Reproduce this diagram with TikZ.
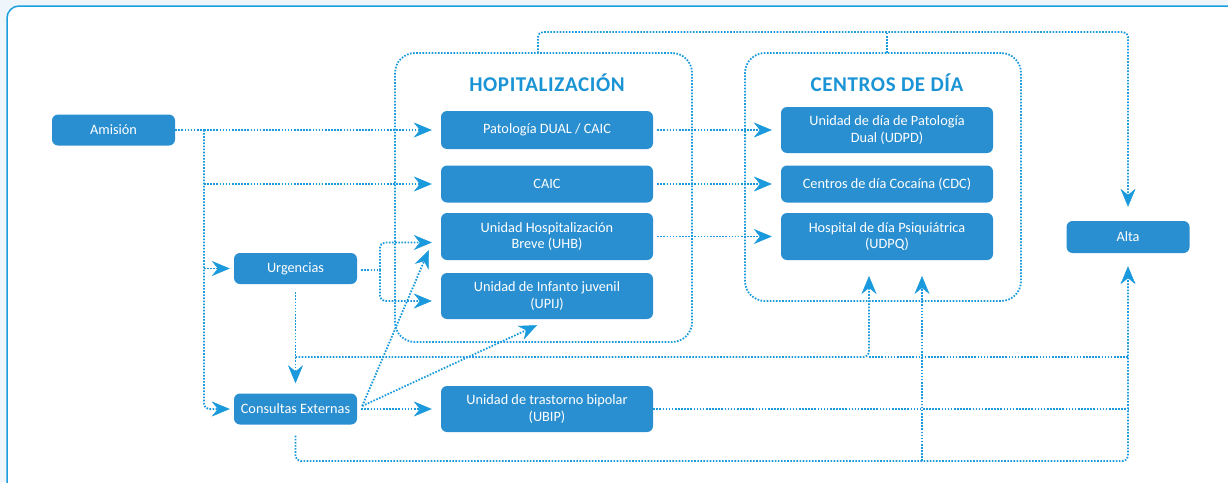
\documentclass[tikz,border=0pt]{standalone}
\usepackage{fontspec}
\setmainfont{Carlito}
\usetikzlibrary{arrows.meta,calc}
\definecolor{bg}{HTML}{EEF6FC}
\definecolor{frameblue}{HTML}{1A9FE0}
\definecolor{boxblue}{HTML}{2A8FD0}
\definecolor{lineblue}{HTML}{1A9ADC}
\definecolor{titleblue}{HTML}{1A94D4}
\begin{document}
\begin{tikzpicture}[x=1pt,y=-1pt,
  box/.style={fill=boxblue, rounded corners=6pt, text=white, font=\fontsize{14.3}{16.5}\selectfont, align=center, inner sep=0pt},
  sbox/.style={box, minimum width=123pt, minimum height=31pt},
  mbox/.style={box, minimum width=212pt},
  dline/.style={draw=lineblue, line width=1.8pt, dash pattern=on 1.6pt off 1.5pt},
  flow/.style={dline, -{Stealth[length=18pt,width=15pt,inset=6pt,line width=0.5pt]}, shorten >=9pt},
  grp/.style={dline, rounded corners=20pt, inner sep=0pt},
  ttl/.style={text=titleblue, font=\bfseries\fontsize{21}{25}\selectfont\addfontfeatures{LetterSpace=3}},
]
\useasboundingbox (0,0) rectangle (1228,482);
\fill[bg] (0,0) rectangle (1228,482);
\begin{scope}
\clip (0,0) rectangle (1228,482);
\draw[frameblue, line width=1.5pt, fill=white, rounded corners=12pt] (7,6) rectangle (1260,510);
\end{scope}

% group boxes
\node[grp, minimum width=297pt, minimum height=289pt] (hosp) at (543.5,197.5) {};
\node[grp, minimum width=276pt, minimum height=248pt] (cdia) at (883,177) {};
\node[ttl] (th) at (547,83) {HOPITALIZACIÓN};
\node[ttl] (tc) at (887,83) {CENTROS DE DÍA};

% nodes
\node[sbox] (ami) at (113.5,130) {Amisión};
\node[sbox] (urg) at (295.5,268.5) {Urgencias};
\node[sbox] (con) at (295.5,409) {Consultas Externas};
\node[mbox, minimum height=38pt] (pat) at (547,130) {Patología DUAL / CAIC};
\node[mbox, minimum height=37pt] (caic) at (547,184) {CAIC};
\node[mbox, minimum height=47pt] (uhb) at (547,236.5) {Unidad Hospitalización\\Breve (UHB)};
\node[mbox, minimum height=46pt] (upij) at (547,296) {Unidad de Infanto juvenil\\(UPIJ)};
\node[mbox, minimum height=46pt] (ubip) at (547,409) {Unidad de trastorno bipolar\\(UBIP)};
\node[mbox, minimum height=46pt] (udpd) at (887,130) {Unidad de día de Patología\\Dual (UDPD)};
\node[mbox, minimum height=37pt] (cdc) at (887,184) {Centros de día Cocaína (CDC)};
\node[mbox, minimum height=47pt] (udpq) at (887,236.5) {Hospital de día Psiquiátrica\\(UDPQ)};
\node[sbox, minimum height=32pt] (alta) at (1128,237) {Alta};

% coordinates
\coordinate (j1) at (204,130);
\coordinate (uj) at (380,270);
\coordinate (h1) at (295.5,357);
\coordinate (c1) at (869,276);
\coordinate (c2) at (922,276);
\coordinate (b1) at (922,461);
\coordinate (b2) at (1128,461);
\coordinate (t1) at (538,53);
\coordinate (t2) at (887,53);

% Amision branches
\draw[dline] (ami.east) -- (j1);
\draw[flow] (j1) -- (pat.west);
\draw[flow] (j1 |- caic) -- (caic.west);
\draw[flow, shorten >=4pt] (j1 |- urg) -- (urg.west);
\draw[flow, shorten >=4pt, rounded corners=5pt] (j1) |- (con.west);

% Urgencias
\draw[dline, shorten <=4pt] (urg.east |- uj) -- (uj);
\draw[flow, rounded corners=5pt] (uj) |- ($(uhb.west)+(0,6)$);
\draw[flow, rounded corners=5pt] (uj) |- ($(upij.west)+(0,5)$);
\draw[flow, shorten <=8pt, shorten >=10pt] (urg.south) -- (con.north);
\draw[flow, shorten >=0pt, rounded corners=5pt] (h1) -| (c1);
\draw[dline] (c1 |- h1) -- (alta |- h1);

% Consultas
\draw[flow, shorten <=4pt] (con.east) -- (ubip.west);
\draw[flow, shorten >=0pt] ($(con.east)+(5,-3)$) -- ($(uhb.south west)+(-12,-10)$);
\draw[flow, shorten >=0pt] ($(con.east)+(5,-3)$) -- ($(upij.south)+(-10,6)$);
\draw[flow, shorten <=11pt, shorten >=13pt, rounded corners=5pt] (con.south) |- (b2) -- (alta.south);
\draw[flow, shorten >=0pt] (b1) -- (c2);
\draw[dline] (ubip.east) -- (ubip.east -| alta);

% Hospitalizacion -> Centros de dia
\draw[flow, shorten <=4pt] (pat.east) -- (udpd.west);
\draw[flow, shorten <=4pt] (caic.east) -- (cdc.west);
\draw[flow, shorten <=4pt] (uhb.east) -- (udpq.west);

% top connection to Alta
\draw[flow, shorten >=14pt, rounded corners=5pt] (t1) -- (t1 |- 0,32) -| (alta.north);
\draw[dline] (t2) -- (t2 |- 0,32);
\end{tikzpicture}
\end{document}
